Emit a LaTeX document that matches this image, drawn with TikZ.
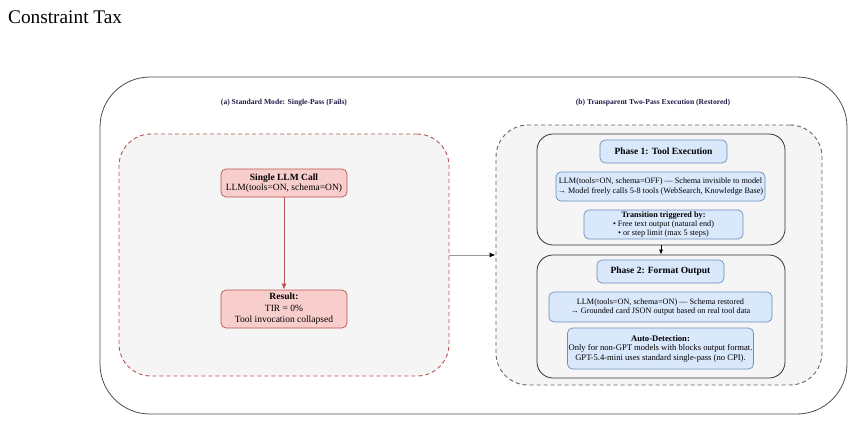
\documentclass[tikz,border=0pt]{standalone}
\usepackage{fontspec}
\setmainfont{Liberation Serif}
\usetikzlibrary{arrows.meta}
\definecolor{redS}{HTML}{B85450}
\definecolor{redF}{HTML}{F8CECC}
\definecolor{blueS}{HTML}{6C8EBF}
\definecolor{blueF}{HTML}{DAE8FC}
\definecolor{panelF}{HTML}{F5F5F5}
\definecolor{grayS}{HTML}{666666}
\definecolor{titleC}{HTML}{1F1B45}
\newcommand{\fs}[1]{\fontsize{#1pt}{\fpeval{#1*1.2}pt}\selectfont}
\tikzset{
  outerbox/.style={draw=black!70, line width=0.8pt, rounded corners=50pt, inner sep=0pt},
  redpanel/.style={draw=redS, dash pattern=on 4pt off 3pt, line width=0.9pt, fill=panelF, rounded corners=32pt, inner sep=0pt},
  graypanel/.style={draw=grayS, dash pattern=on 4pt off 3pt, line width=0.9pt, fill=panelF, rounded corners=32pt, inner sep=0pt},
  phasebox/.style={draw=black!80, line width=0.8pt, fill=panelF, rounded corners=16pt, inner sep=0pt},
  redbox/.style={draw=redS, fill=redF, line width=0.7pt, rounded corners=5pt, align=center, inner sep=1pt},
  bluebox/.style={draw=blueS, fill=blueF, line width=0.7pt, rounded corners=5pt, align=center, inner sep=1pt},
  paneltitle/.style={font=\fs{7.6}\bfseries, text=titleC},
}
\begin{document}
\begin{tikzpicture}[x=1pt,y=-1pt]
\useasboundingbox (0,0) rectangle (854,421);
\node[anchor=base west, font=\fs{19.3}, inner sep=0pt] (title) at (8,23) {Constraint Tax};

\node[outerbox, minimum width=747pt, minimum height=337pt] (outer) at (473.5,245.5) {};

\node[paneltitle] (ta) at (284,103) {(a) Standard Mode: Single-Pass (Fails)};
\node[paneltitle] (tb) at (653,103) {(b) Transparent Two-Pass Execution (Restored)};

\node[redpanel, minimum width=330pt, minimum height=242pt] (left) at (284,255) {};
\node[graypanel, minimum width=326pt, minimum height=260pt] (right) at (659,255) {};

\node[redbox, minimum width=126pt, minimum height=28pt, font=\fs{9.5}] (single) at (284,183)
  {\textbf{Single LLM Call}\\[-1pt]LLM(tools=ON, schema=ON)};
\node[redbox, minimum width=126pt, minimum height=38pt, font=\fs{9.5}] (result) at (284,309)
  {\textbf{Result:}\\TIR = 0\%\\Tool invocation collapsed};
\draw[redS, line width=0.9pt, -{Latex[length=6pt,width=5pt]}] (single) -- (result);

\node[phasebox, minimum width=248pt, minimum height=111pt] (p1) at (661,189.5) {};
\node[bluebox, minimum width=127pt, minimum height=23pt, font=\fs{9.5}\bfseries] (p1t) at (663.5,151.5) {Phase 1: Tool Execution};
\node[bluebox, minimum width=209pt, minimum height=29pt, font=\fs{8.2}] (llm1) at (660.5,186.5)
  {LLM(tools=ON, schema=OFF) --- Schema invisible to model\\\textrightarrow{} Model freely calls 5-8 tools (WebSearch, Knowledge Base)};
\node[bluebox, minimum width=159pt, minimum height=29pt, font=\fs{8.2}] (trans) at (663.5,224.5)
  {\textbf{Transition triggered by:}\\[-1pt]• Free text output (natural end)\\[-1pt]• or step limit (max 5 steps)};

\node[phasebox, minimum width=248pt, minimum height=123pt] (p2) at (661,316.5) {};
\node[bluebox, minimum width=127pt, minimum height=23pt, font=\fs{9.5}\bfseries] (p2t) at (660.5,271.5) {Phase 2: Format Output};
\node[bluebox, minimum width=223pt, minimum height=30pt, font=\fs{8.2}] (llm2) at (660.5,307)
  {LLM(tools=ON, schema=ON) --- Schema restored\\\textrightarrow{} Grounded card JSON output based on real tool data};
\node[bluebox, minimum width=185pt, minimum height=41pt, font=\fs{8.6}] (auto) at (660.5,348.5)
  {\textbf{Auto-Detection:}\\[-0.8pt]Only for non-GPT models with blocks output format.\\[-0.8pt]GPT-5.4-mini uses standard single-pass (no CPI).};

\draw[black, line width=0.7pt, -{Latex[length=5pt,width=4pt]}] (p1.south) -- (p2.north);
\draw[black!40, line width=1pt, -{Latex[length=6pt,width=5pt,fill=black,color=black]}] (left.east) -- (right.west);
\end{tikzpicture}
\end{document}
